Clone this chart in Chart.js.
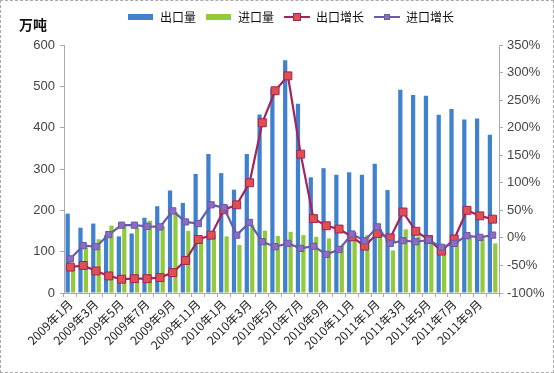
<!doctype html>
<html lang="zh">
<head>
  <meta charset="utf-8" />
  <title>出口量 进口量</title>
  <script src="https://cdn.jsdelivr.net/npm/chart.js@4.4.1/dist/chart.umd.min.js"></script>
  <style>
    *{box-sizing:border-box;margin:0;padding:0}
    html,body{width:554px;height:373px;background:#fff;overflow:hidden}
    #wrap{position:relative;width:554px;height:373px;border:1px dashed #aaa}
    #unit{position:absolute;left:18px;top:13px;font:bold 14px "Noto Sans CJK SC",sans-serif;color:#111}
  </style>
</head>
<body>
  <div id="wrap">
    <canvas id="c"></canvas>
    <div id="unit">万吨</div>
  </div>

  <script>
    // ---- data ----
    const months = [
      '2009年1月','2009年2月','2009年3月','2009年4月','2009年5月','2009年6月',
      '2009年7月','2009年8月','2009年9月','2009年10月','2009年11月','2009年12月',
      '2010年1月','2010年2月','2010年3月','2010年4月','2010年5月','2010年6月',
      '2010年7月','2010年8月','2010年9月','2010年10月','2010年11月','2010年12月',
      '2011年1月','2011年2月','2011年3月','2011年4月','2011年5月','2011年6月',
      '2011年7月','2011年8月','2011年9月','2011年10月'
    ];
    const exportVol = [192,158,168,140,137,144,182,210,248,218,288,336,290,250,336,432,495,563,
                       458,280,302,286,292,286,313,249,492,479,477,431,445,420,422,383];
    const importVol = [62,110,130,163,162,158,175,162,196,150,125,140,137,116,165,151,138,148,
                       140,136,132,114,138,140,150,103,154,137,126,116,128,137,134,120];
    const exportGrowth = [-53,-50,-60,-69,-75,-74,-74,-72,-63,-41,-3,5,51,60,100,209,267,294,
                          152,35,22,16,2,-15,8,0,47,12,-3,-24,-2,50,40,34];
    const importGrowth = [-38,-14,-16,6,23,23,21,20,49,29,26,60,55,5,28,-7,-16,-10,
                          -19,-15,-30,-21,7,-5,20,-10,-5,-7,-4,-17,-10,4,1,5];

    const leftTicks = [0,100,200,300,400,500,600];
    const rightTicks = [-100,-50,0,50,100,150,200,250,300,350];

    const C = {
      blue:'#3f80cf', green:'#93c93d',
      red:'#a3235c', redPt:'#e0504f',
      purple:'#6a5aa8', purplePt:'#8d6cc4'
    };

    // legend swatches
    function barSwatch(col){
      const cv = document.createElement('canvas');
      cv.width = 25; cv.height = 6;
      const g = cv.getContext('2d');
      g.fillStyle = col; g.fillRect(0,0,25,6);
      return cv;
    }
    function lineSwatch(line, pt, sz){
      const cv = document.createElement('canvas');
      cv.width = 26; cv.height = 10;
      const g = cv.getContext('2d');
      g.strokeStyle = line; g.lineWidth = 2;
      g.beginPath(); g.moveTo(0,5); g.lineTo(26,5); g.stroke();
      g.fillStyle = pt; g.fillRect(13 - sz/2, 5 - sz/2, sz, sz);
      g.strokeStyle = line; g.lineWidth = 1;
      g.strokeRect(13 - sz/2 + .5, 5 - sz/2 + .5, sz - 1, sz - 1);
      return cv;
    }

    // fixed legend band height, and nudge it right like the original
    const fixLegend = {
      id:'fixLegend',
      afterInit(chart){
        const lg = chart.legend;
        const fit = lg.fit;
        lg.fit = function(){ fit.call(this); this.height = 44; };
      },
      afterLayout(chart){
        chart.legend.left += 14;
        chart.legend.right += 14;
      }
    };

    const axisFont = {family:'"Liberation Sans", Arial, sans-serif', size:13};

    new Chart(document.getElementById('c'), {
      data: {
        labels: months,
        datasets: [
          {type:'bar', label:'出口量', data:exportVol, backgroundColor:C.blue, yAxisID:'y',
           order:2, barPercentage:0.78, categoryPercentage:0.85},
          {type:'bar', label:'进口量', data:importVol, backgroundColor:C.green, yAxisID:'y',
           order:2, barPercentage:0.78, categoryPercentage:0.85},
          {type:'line', label:'出口增长', data:exportGrowth, yAxisID:'y1', order:1,
           borderColor:C.red, borderWidth:2.2, backgroundColor:C.redPt,
           pointStyle:'rect', pointRadius:5.6, pointBorderColor:C.red, pointBorderWidth:1,
           pointBackgroundColor:C.redPt, tension:0},
          {type:'line', label:'进口增长', data:importGrowth, yAxisID:'y1', order:0,
           borderColor:C.purple, borderWidth:2.2, backgroundColor:C.purplePt,
           pointStyle:'rect', pointRadius:4.4, pointBorderColor:C.purple, pointBorderWidth:1,
           pointBackgroundColor:C.purplePt, tension:0}
        ]
      },
      options: {
        responsive:true, maintainAspectRatio:false, animation:false,
        layout:{padding:0},
        plugins:{
          tooltip:{enabled:false},
          legend:{
            position:'top',
            labels:{
              usePointStyle:true, pointStyleWidth:26, padding:10,
              color:'#111', font:{family:'"Noto Sans CJK SC", sans-serif', size:12},
              generateLabels(chart){
                return chart.data.datasets.map((ds,i)=>({
                  text:ds.label, datasetIndex:i, hidden:false, lineWidth:0,
                  fillStyle:'transparent', strokeStyle:'transparent', fontColor:'#111',
                  pointStyle: ds.type==='bar' ? barSwatch(ds.backgroundColor)
                    : lineSwatch(ds.borderColor, ds.pointBackgroundColor, i===2 ? 8 : 6)
                }));
              }
            }
          }
        },
        scales:{
          x:{
            offset:true,
            grid:{display:true, drawOnChartArea:false, drawTicks:true, tickLength:4, color:'#aaa', offset:true},
            border:{color:'#aaa'},
            ticks:{
              autoSkip:false, maxRotation:45, minRotation:45, color:'#222',
              font:{family:'"Noto Sans CJK SC", sans-serif', size:12}, padding:0,
              callback(v, i){ return i % 2 === 0 ? months[i] : ''; }
            },
            afterFit(s){ s.height = 79; }
          },
          y:{
            position:'left', min:0, max:600,
            afterBuildTicks(s){ s.ticks = leftTicks.map(v=>({value:v})); },
            grid:{display:true, drawOnChartArea:false, drawTicks:true, tickLength:4, color:'#aaa'},
            border:{color:'#aaa'},
            ticks:{color:'#444', font:axisFont, padding:5},
            afterFit(s){ s.width = 63; }
          },
          y1:{
            position:'right', min:-100, max:350,
            afterBuildTicks(s){ s.ticks = rightTicks.map(v=>({value:v})); },
            grid:{display:true, drawOnChartArea:false, drawTicks:true, tickLength:4, color:'#aaa'},
            border:{color:'#aaa', dash:[2,2]},
            ticks:{color:'#444', font:axisFont, padding:4, callback:v=>v+'%'},
            afterFit(s){ s.width = 54; }
          }
        }
      },
      plugins:[fixLegend]
    });
  </script>
</body>
</html>
